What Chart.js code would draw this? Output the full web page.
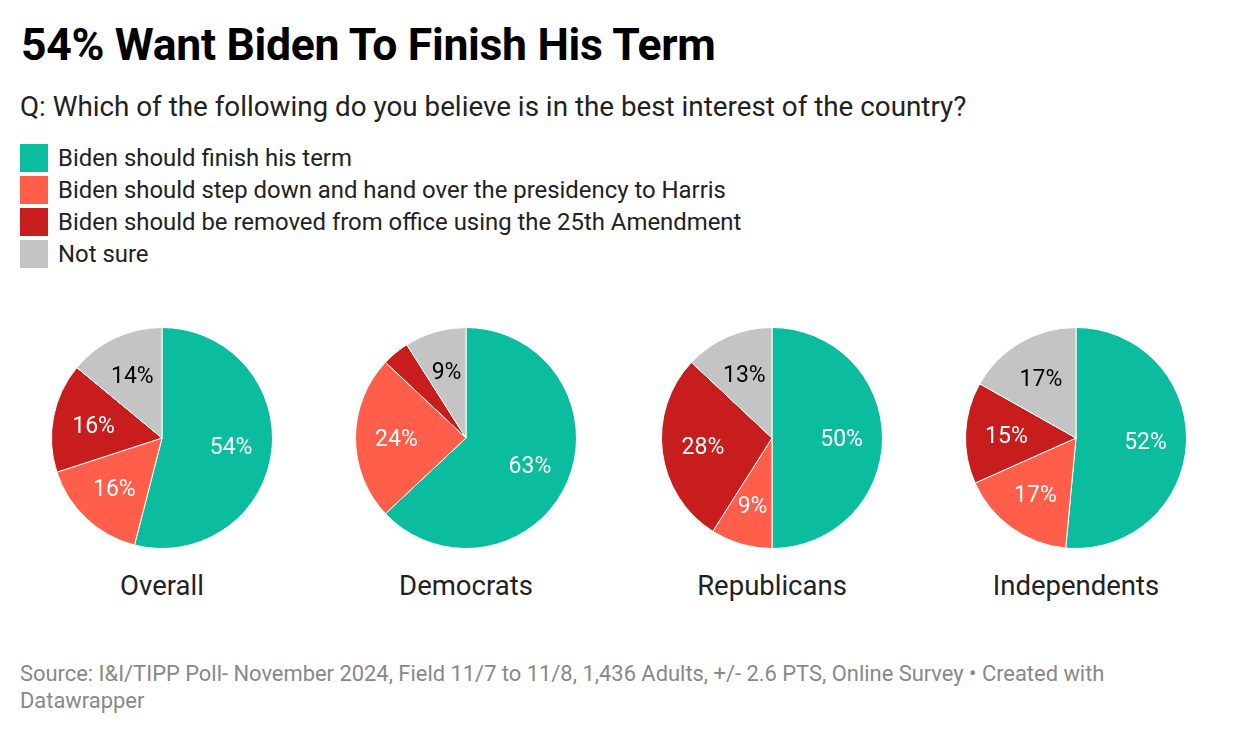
<!DOCTYPE html>
<html>
<head>
<meta charset="utf-8">
<script src="https://cdn.jsdelivr.net/npm/chart.js@4"></script>
<style>
  body { margin: 0; background: #fff; font-family: Roboto, sans-serif; width: 1240px; height: 734px; position: relative; overflow: hidden; }
  #title { position: absolute; left: 21px; top: 19px; font-size: 44.5px; font-weight: bold; color: #000; letter-spacing: -0.3px; line-height: 52px; }
  #sub { position: absolute; left: 20px; top: 90px; font-size: 27.8px; color: #222; line-height: 34px; }
  #legend { position: absolute; left: 20px; top: 144px; }
  .item { height: 32px; display: flex; align-items: flex-start; font-size: 23.9px; color: #222; }
  .sw { width: 28px; height: 28px; margin-right: 10px; }
  .item span { line-height: 28px; }
  .pie { position: absolute; width: 222px; height: 222px; top: 327px; }
  .cap { position: absolute; top: 569px; width: 300px; text-align: center; font-size: 27.5px; color: #222; line-height: 34px; }
  #src { position: absolute; left: 20px; top: 660px; font-size: 21.9px; color: #888; line-height: 27px; width: 1120px; }
</style>
</head>
<body>
<div id="title">54% Want Biden To Finish His Term</div>
<div id="sub">Q: Which of the following do you believe is in the best interest of the country?</div>
<div id="legend"></div>
<div id="pies"></div>
<div id="src">Source: I&amp;I/TIPP Poll- November 2024, Field 11/7 to 11/8, 1,436 Adults, +/- 2.6 PTS, Online Survey • Created with Datawrapper</div>
<script>
var answers = [
  "Biden should finish his term",
  "Biden should step down and hand over the presidency to Harris",
  "Biden should be removed from office using the 25th Amendment",
  "Not sure"
];
var colors = ["#0bbc9f", "#ff5e4b", "#c71e1d", "#c4c4c4"];
var textColors = ["#fff", "#fff", "#fff", "#000"];

var groups = ["Overall", "Democrats", "Republicans", "Independents"];
var overall = [54, 16, 16, 14];
var democrats = [63, 24, 4, 9];
var republicans = [50, 9, 28, 13];
var independents = [52, 17, 15, 17];
var groupValues = [overall, democrats, republicans, independents];
var centersX = [162, 466, 772, 1076];

var legend = document.getElementById("legend");
answers.forEach(function (a, i) {
  legend.innerHTML += '<div class="item"><div class="sw" style="background:' + colors[i] + '"></div><span>' + a + '</span></div>';
});

// draw percentage labels inside the slices
var sliceLabels = {
  id: "sliceLabels",
  afterDatasetsDraw: function (chart) {
    var ctx = chart.ctx;
    var meta = chart.getDatasetMeta(0);
    var data = chart.data.datasets[0].data;
    ctx.save();
    ctx.font = "23px Roboto";
    ctx.textAlign = "center";
    ctx.textBaseline = "middle";
    meta.data.forEach(function (arc, i) {
      if (data[i] < 6) return;
      var mid = (arc.startAngle + arc.endAngle) / 2;
      var r = arc.outerRadius * 0.63;
      ctx.fillStyle = textColors[i];
      ctx.fillText(data[i] + "%", arc.x + Math.cos(mid) * r, arc.y + Math.sin(mid) * r + 2);
    });
    ctx.restore();
  }
};

var pies = document.getElementById("pies");
groups.forEach(function (g, k) {
  var box = document.createElement("div");
  box.className = "pie";
  box.style.left = (centersX[k] - 111) + "px";
  var cv = document.createElement("canvas");
  box.appendChild(cv);
  pies.appendChild(box);
  var cap = document.createElement("div");
  cap.className = "cap";
  cap.style.left = (centersX[k] - 150) + "px";
  cap.textContent = g;
  pies.appendChild(cap);

  new Chart(cv, {
    type: "pie",
    data: {
      labels: answers,
      datasets: [{
        data: groupValues[k],
        backgroundColor: colors,
        borderColor: "#fff",
        borderWidth: 1
      }]
    },
    options: {
      responsive: true,
      maintainAspectRatio: false,
      animation: false,
      layout: { padding: 0 },
      plugins: { legend: { display: false }, tooltip: { enabled: false } }
    },
    plugins: [sliceLabels]
  });
});
</script>
</body>
</html>
